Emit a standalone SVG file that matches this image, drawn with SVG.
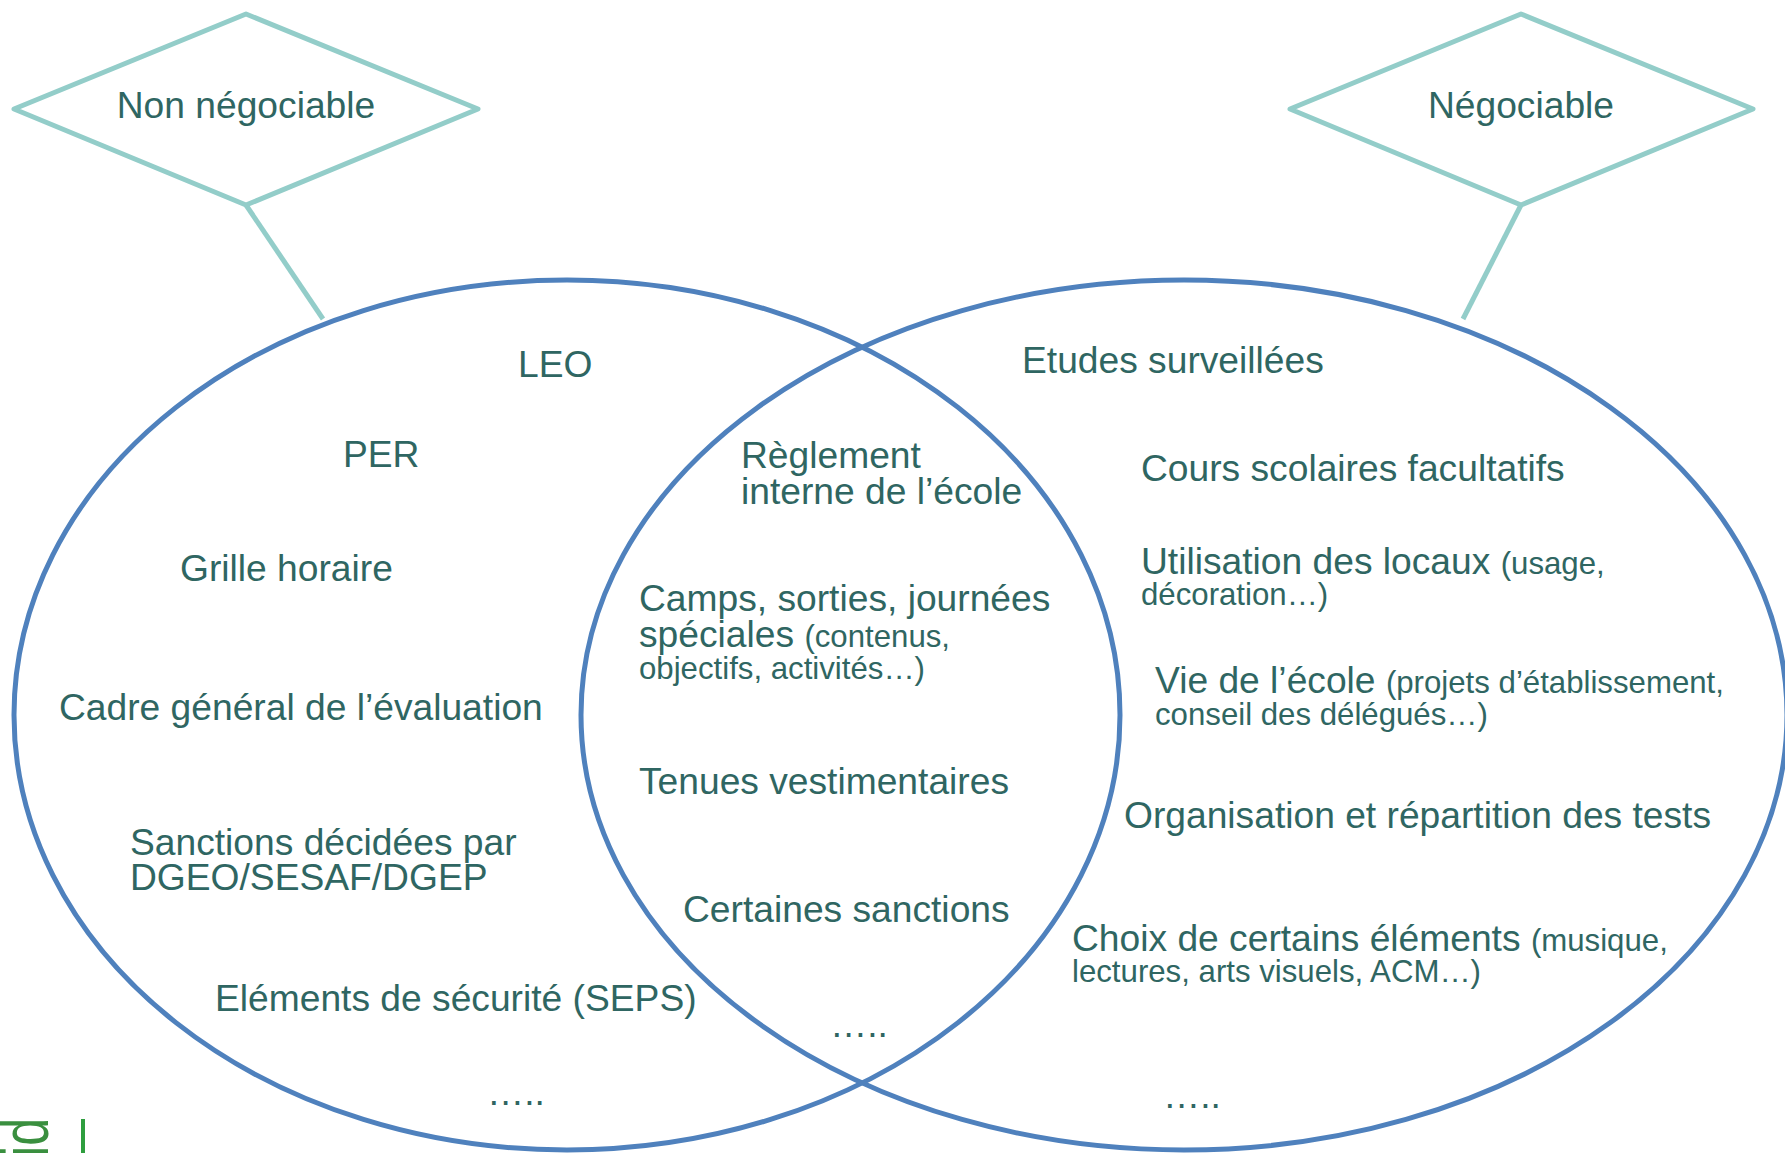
<svg xmlns="http://www.w3.org/2000/svg" width="1785" height="1153" viewBox="0 0 1785 1153">
<style>
.ell{fill:none;stroke:#4f81bd;stroke-width:5}
.dia{fill:none;stroke:#93cdc9;stroke-width:5;stroke-linejoin:round}
.con{stroke:#93cdc9;stroke-width:5}
text{font-family:"Liberation Sans",Arial,sans-serif;fill:#2f6662}
.b{font-size:37.2px}
.s{font-size:31.2px}
.m{text-anchor:middle}
</style>
<rect width="1785" height="1153" fill="#ffffff"/>
<g id="set-non-negociable"><ellipse class="ell" cx="567" cy="715" rx="553" ry="435"/></g>
<g id="set-negociable"><ellipse class="ell" cx="1184" cy="715" rx="603" ry="435"/></g>
<g id="connectors">
<line class="con" x1="246" y1="205" x2="323" y2="319"/>
<line class="con" x1="1521" y1="205" x2="1463" y2="319"/>
</g>
<g id="label-non-negociable">
<polygon class="dia" points="14,109 246,14 478,109 246,205"/>
<text class="b m" x="246" y="118">Non négociable</text>
</g>
<g id="label-negociable">
<polygon class="dia" points="1290,109 1521,14 1753,109 1521,205"/>
<text class="b m" x="1521" y="118">Négociable</text>
</g>
<g id="n-leo"><text class="b" x="518" y="377">LEO</text></g>
<g id="n-per"><text class="b" x="343" y="467">PER</text></g>
<g id="n-grille"><text class="b" x="180" y="581">Grille horaire</text></g>
<g id="n-cadre"><text class="b" x="59" y="720">Cadre général de l’évaluation</text></g>
<g id="n-sanctions-dgeo"><text class="b" x="130" y="855">Sanctions décidées par</text><text class="b" x="130" y="890">DGEO/SESAF/DGEP</text></g>
<g id="n-securite"><text class="b" x="215" y="1011">Eléments de sécurité (SEPS)</text></g>
<g id="n-etc-left"><text class="b" x="487" y="1105">…..</text></g>
<g id="n-reglement"><text class="b" x="741" y="468">Règlement</text><text class="b" x="741" y="504">interne de l’école</text></g>
<g id="n-camps"><text class="b" x="639" y="611">Camps, sorties, journées</text><text x="639" y="647"><tspan class="b">spéciales </tspan><tspan class="s">(contenus,</tspan></text><text class="s" x="639" y="679">objectifs, activités…)</text></g>
<g id="n-tenues"><text class="b" x="639" y="794">Tenues vestimentaires</text></g>
<g id="n-certaines"><text class="b" x="683" y="922">Certaines sanctions</text></g>
<g id="n-etc-mid"><text class="b" x="830" y="1037">…..</text></g>
<g id="n-etudes"><text class="b" x="1022" y="373">Etudes surveillées</text></g>
<g id="n-cours"><text class="b" x="1141" y="481">Cours scolaires facultatifs</text></g>
<g id="n-locaux"><text x="1141" y="574"><tspan class="b">Utilisation des locaux </tspan><tspan class="s">(usage,</tspan></text><text class="s" x="1141" y="605">décoration…)</text></g>
<g id="n-vie"><text x="1155" y="693"><tspan class="b">Vie de l’école </tspan><tspan class="s">(projets d’établissement,</tspan></text><text class="s" x="1155" y="725">conseil des délégués…)</text></g>
<g id="n-tests"><text class="b" x="1124" y="828">Organisation et répartition des tests</text></g>
<g id="n-choix"><text x="1072" y="951"><tspan class="b">Choix de certains éléments </tspan><tspan class="s">(musique,</tspan></text><text class="s" x="1072" y="982">lectures, arts visuels, ACM…)</text></g>
<g id="n-etc-right"><text class="b" x="1163" y="1108">…..</text></g>
<g id="logo-fragment">
<text transform="translate(48,1157) rotate(-90) scale(0.75,1)" style="font-size:67px;fill:#3a8f3f">id</text>
<rect x="81" y="1119" width="4" height="34" fill="#2e9e3e"/>
</g>
</svg>
